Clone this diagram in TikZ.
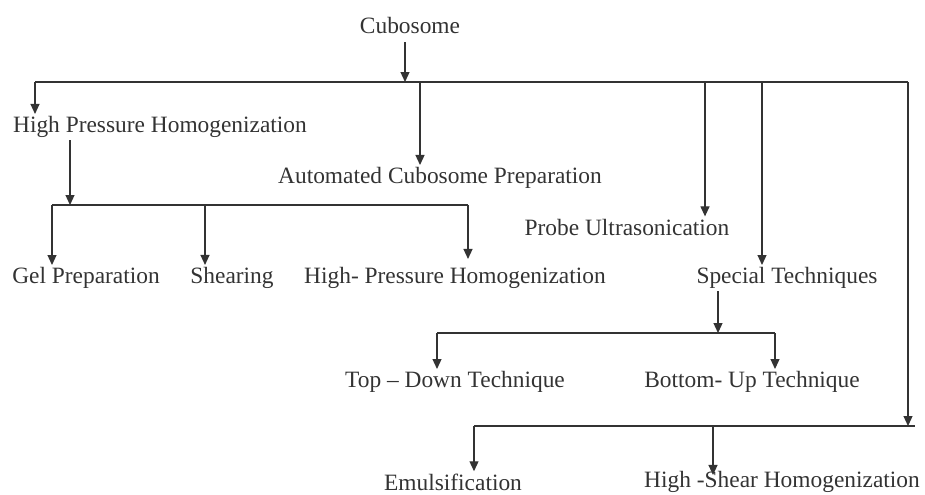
\documentclass[tikz,border=0pt]{standalone}
\usepackage{fontspec}
\setmainfont{Liberation Serif}
\usetikzlibrary{arrows.meta,positioning,calc}
\usepackage{xcolor}

\begin{document}
\begin{tikzpicture}[x=0.5pt,y=-0.5pt,
		lbl/.style={font=\fontsize{11.7}{13}\selectfont,text=black!80,inner sep=1pt},
		arr/.style={-{Triangle[length=5pt,width=4.5pt]},line width=0.6pt,draw=black!80},
		bar/.style={line width=0.6pt,draw=black!80}]
				\useasboundingbox (0,0) rectangle (925,494);
				
				% Radice
				\node[lbl] (cub) at (410,25) {Cubosome};
				
				% Barra superiore
				\coordinate (topL) at (35,82);
				\coordinate (topR) at (908,82);
				\draw[bar] (topL) -- (topR);
				\draw[arr] (405,42) coordinate (cubOut) -- (cubOut |- topL);
				
				% Rami principali
				\node[lbl] (hph) at (160,127) {High Pressure Homogenization};
				\node[lbl] (acp) at (440,178) {Automated Cubosome Preparation};
				\node[lbl] (pus) at (627,227) {Probe Ultrasonication};
				\node[lbl] (spt) at (787,278) {Special Techniques};
				\draw[arr] (topL) -- (topL |- hph.north);
				\draw[arr] (420,82) coordinate (acpIn) -- (acpIn |- acp.north);
				\draw[arr] (705,82) coordinate (pusIn) -- (pusIn |- pus.north);
				\draw[arr] (762,82) coordinate (sptIn) -- (sptIn |- spt.north);
				
				% Sotto-rami HPH
				\coordinate (hphL) at (52,205);
				\coordinate (hphR) at (468,205);
				\draw[bar] (hphL) -- (hphR);
				\draw[arr] (70,0 |- hph.south) coordinate (hphOut) -- (hphOut |- hphL);
				\node[lbl] (gel) at (86,278) {Gel Preparation};
				\node[lbl] (she) at (232,278) {Shearing};
				\node[lbl] (hph2) at (455,278) {High- Pressure Homogenization};
				\draw[arr] (hphL) -- (hphL |- gel.north);
				\draw[arr] (205,205) coordinate (sheIn) -- (sheIn |- she.north);
				\draw[arr] (hphR) -- ($(hphR |- hph2.north)+(0,-6)$);
				
				% Tecniche speciali
				\coordinate (sptL) at (437,333);
				\coordinate (sptR) at (775,333);
				\draw[bar] (sptL) -- (sptR);
				\draw[arr] (718,0 |- spt.south) coordinate (sptOut) -- (sptOut |- sptL);
				\node[lbl] (tdt) at (455,382) {Top -- Down Technique};
				\node[lbl] (but) at (752,382) {Bottom- Up Technique};
				\draw[arr] (sptL) -- (sptL |- tdt.north);
				\draw[arr] (sptR) -- (sptR |- but.north);
				
				% Ramo destro
				\coordinate (botL) at (474,426);
				\coordinate (botR) at (915,426);
				\draw[bar] (botL) -- (botR);
				\draw[arr] (topR) -- (topR |- botL);
				\node[lbl] (emu) at (453,482) {Emulsification};
				\node[lbl] (hsh) at (782,482) {High -Shear Homogenization};
				\draw[arr] (botL) -- (botL |- emu.north);
				\draw[arr] (713,426) coordinate (hshIn) -- ($(hshIn |- hsh.north)+(0,6)$);
				
			\end{tikzpicture}
\end{document}
